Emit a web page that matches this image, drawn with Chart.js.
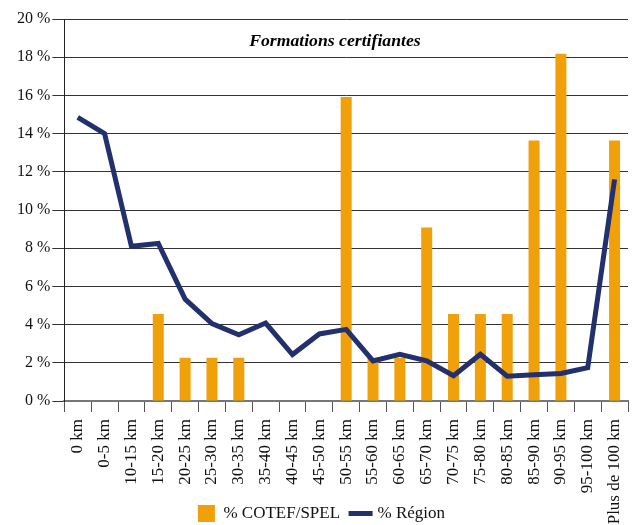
<!DOCTYPE html>
<html><head><meta charset="utf-8">
<script src="https://cdn.jsdelivr.net/npm/chart.js@4/dist/chart.umd.min.js"></script>
<style>html,body{margin:0;padding:0;background:#fff}#wrap{width:637px;height:525px}</style>
</head><body><div id="wrap"><canvas id="c" width="637" height="525"></canvas></div>
<script>
const chartTitle = "Formations certifiantes";
const categories = ["0 km","0-5 km","10-15 km","15-20 km","20-25 km","25-30 km","30-35 km","35-40 km","40-45 km","45-50 km","50-55 km","55-60 km","60-65 km","65-70 km","70-75 km","75-80 km","80-85 km","85-90 km","90-95 km","95-100 km","Plus de 100 km"];
const cotefLabel = "% COTEF/SPEL";
const regionLabel = "% Région";
const cotefValues = [0,0,0,4.55,2.27,2.27,2.27,0,0,0,15.91,2.27,2.27,9.09,4.55,4.55,4.55,13.64,18.18,0,13.64];
const regionValues = [14.85,14.0,8.1,8.25,5.33,4.05,3.47,4.08,2.43,3.51,3.75,2.1,2.45,2.1,1.32,2.45,1.3,1.37,1.44,1.75,11.6];
const yMin = 0, yMax = 20, yStep = 2;

const SERIF = '"Liberation Serif", "Times New Roman", serif';

const innerTitle = {
  id: 'innerTitle',
  afterDraw(chart) {
    const {ctx, chartArea: a} = chart;
    ctx.save();
    ctx.font = 'bold italic 17.7px ' + SERIF;
    ctx.fillStyle = '#000';
    ctx.textAlign = 'center';
    ctx.textBaseline = 'middle';
    ctx.fillText(chartTitle, a.left + (a.right - a.left) * 0.48, a.top + 22);
    ctx.restore();
  }
};

// let the long rotated x labels run down to the canvas edge (beside the legend)
const extendLabelArea = {
  id: 'extendLabelArea',
  afterLayout(chart) { chart.scales.x.bottom = chart.height; }
};

new Chart(document.getElementById('c'), {
  type: 'bar',
  data: {
    labels: categories,
    datasets: [
      { type: 'bar', label: cotefLabel, data: cotefValues, backgroundColor: '#F0A10A', borderColor: '#F0A10A', borderWidth: 0,
        barPercentage: 0.41, categoryPercentage: 1.0, order: 2 },
      { type: 'line', label: regionLabel, data: regionValues, borderColor: '#22306E', backgroundColor: '#22306E',
        borderWidth: 5, pointRadius: 0, tension: 0, fill: false, order: 1 }
    ]
  },
  options: {
    responsive: false, animation: false, devicePixelRatio: 1,
    layout: { padding: { top: 19, right: 9, left: 15, bottom: -7 } },
    plugins: {
      tooltip: { enabled: false },
      legend: {
        position: 'bottom',
        labels: {
          usePointStyle: true, boxHeight: 17, padding: 12, color: '#111',
          font: { family: SERIF, size: 17 },
          sort: (a, b) => a.datasetIndex - b.datasetIndex,
          generateLabels(chart) {
            const items = Chart.defaults.plugins.legend.labels.generateLabels(chart);
            items.forEach(it => {
              if (it.datasetIndex === 0) { it.pointStyle = 'rect'; it.lineWidth = 0; it.fillStyle = '#F0A10A'; }
              else { it.pointStyle = 'line'; it.lineWidth = 5; it.strokeStyle = '#22306E'; }
            });
            return items;
          }
        }
      }
    },
    scales: {
      x: {
        grid: { drawOnChartArea: false, drawTicks: true, tickLength: 11, color: '#555', offset: true },
        border: { color: '#777', width: 2 },
        ticks: { minRotation: 90, maxRotation: 90, autoSkip: false, padding: 7, color: '#111',
                 font: { family: SERIF, size: 17 } },
        afterFit(s) { s.height = 92; s.paddingRight = 0; s.paddingLeft = 0; }
      },
      y: {
        min: yMin, max: yMax,
        grid: { color: '#333', tickLength: 12 },
        border: { color: '#222', width: 1 },
        ticks: { stepSize: yStep, padding: 2, color: '#111', font: { family: SERIF, size: 16 },
                 callback: v => v + ' %' }
      }
    }
  },
  plugins: [innerTitle, extendLabelArea]
});
</script>
</body></html>
